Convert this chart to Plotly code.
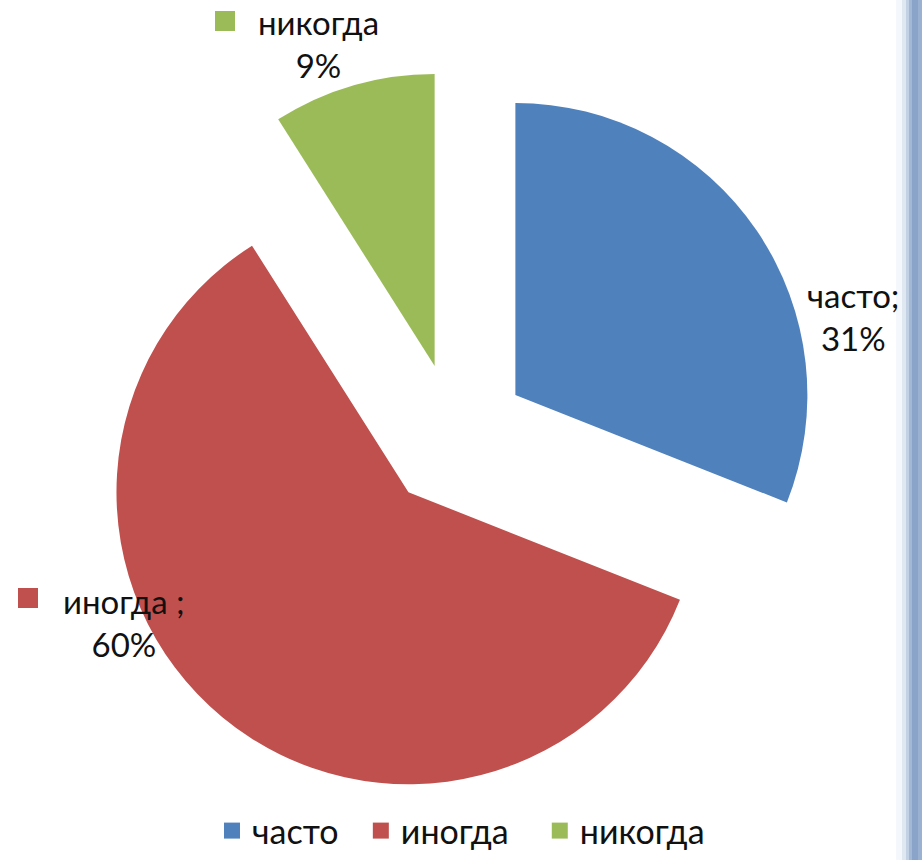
import plotly.graph_objects as go

# ── data ────────────────────────────────────────────────────────────────
categories = ["часто", "иногда", "никогда"]
values = [31, 60, 9]
colors = ["#4F81BD", "#C0504D", "#9BBB59"]
label_sep = [";", " ;", ""]          # separators as in the source labels

W, H = 922, 860
FONT = "Lato, Carlito, Calibri, 'Open Sans', sans-serif"
TXT = "#111111"
NB = "\u00a0"


def px(x, y):
    """pixel position -> paper coords"""
    return x / W, 1 - y / H


fig = go.Figure(go.Pie(
    labels=categories,
    values=values,
    marker=dict(colors=colors, line=dict(width=0)),
    sort=False,
    direction="clockwise",
    rotation=0,
    pull=[0.25, 0.25, 0.25],
    textinfo="none",
    hoverinfo="label+percent",
    showlegend=False,
    domain=dict(x=[90 / W, 820 / W], y=[1 - 801 / H, 1 - 71 / H]),
))

# legend entries with bigger square keys (trailing spaces widen the gaps)
pads = [NB * 2, NB * 3, ""]
for cat, col, pad in zip(categories, colors, pads):
    fig.add_trace(go.Scatter(
        x=[None], y=[None], mode="markers", name=cat + pad,
        marker=dict(symbol="square", size=20, color=col),
    ))

# ── data labels (placed like the original) ─────────────────────────────
label_pos = [(853, 316), (124, 622), (318, 44)]
key_pos = [None, (28, 598), (225, 21)]
for cat, val, col, sep, (x, y), kp in zip(categories, values, colors, label_sep, label_pos, key_pos):
    ax, ay = px(x, y)
    fig.add_annotation(
        x=ax, y=ay, xref="paper", yref="paper",
        xanchor="center", yanchor="middle",
        text=f"{cat}{sep}<br>{val}%",
        showarrow=False, align="center",
        font=dict(family=FONT, size=33, color=TXT),
    )
    if kp:
        kx, ky = px(*kp)
        fig.add_shape(type="rect", xref="paper", yref="paper",
                      x0=kx - 10 / W, x1=kx + 10 / W, y0=ky - 10 / H, y1=ky + 10 / H,
                      fillcolor=col, line=dict(width=0))

# ── right-edge gradient strip ──────────────────────────────────────────
strip = [(896, 902, "#f4f7fb"), (902, 906, "#dfe7f1"), (906, 909, "#c3d1e4"),
         (909, 912, "#a3b8d5"), (912, 918, "#8aa4c9"), (918, 922, "#9ab1d1")]
for x0, x1, c in strip:
    fig.add_shape(type="rect", xref="paper", yref="paper",
                  x0=x0 / W, x1=x1 / W, y0=0, y1=1,
                  fillcolor=c, line=dict(width=0), layer="below")

fig.update_layout(
    width=W, height=H,
    margin=dict(l=0, r=0, t=0, b=0),
    paper_bgcolor="white",
    plot_bgcolor="rgba(0,0,0,0)",
    font=dict(family=FONT, size=33, color=TXT),
    xaxis=dict(visible=False),
    yaxis=dict(visible=False),
    showlegend=True,
    legend=dict(
        orientation="h",
        x=0.5, xanchor="center",
        y=0, yanchor="bottom",
        font=dict(family=FONT, size=34, color=TXT),
        bgcolor="rgba(0,0,0,0)",
        itemwidth=30,
    ),
)

fig.write_html("out.html", config={"displayModeBar": False},
               post_script="document.body.style.margin='0';")
